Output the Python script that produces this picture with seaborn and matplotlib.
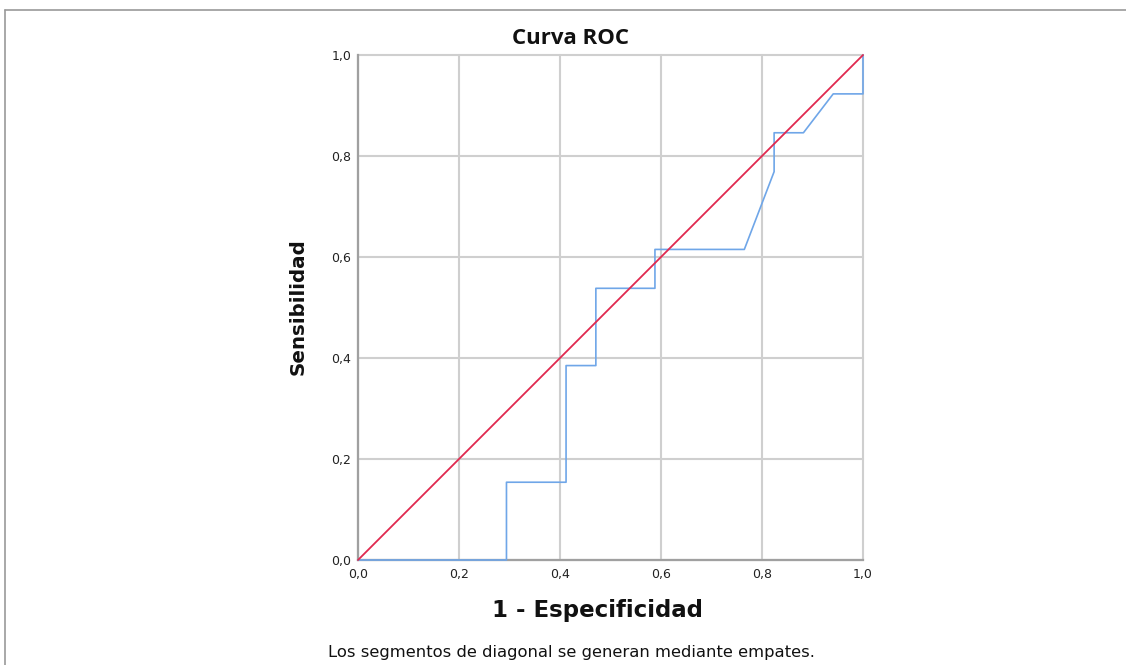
import matplotlib
matplotlib.use("Agg")
import matplotlib.pyplot as plt
import seaborn as sns
import pandas as pd
from matplotlib.lines import Line2D
from matplotlib.ticker import FuncFormatter

# ROC curve points (1 - specificity, sensitivity)
fpr = [0.0, 0.294, 0.294, 0.412, 0.412, 0.471, 0.471, 0.588, 0.588, 0.765,
       0.824, 0.824, 0.882, 0.941, 1.0, 1.0]
tpr = [0.0, 0.0, 0.154, 0.154, 0.385, 0.385, 0.538, 0.538, 0.615, 0.615,
       0.769, 0.846, 0.846, 0.923, 0.923, 1.0]
ref_x = [0.0, 1.0]
ref_y = [0.0, 1.0]
ticks = [0.0, 0.2, 0.4, 0.6, 0.8, 1.0]

title = "Curva ROC"
xlabel = "1 - Especificidad"
ylabel = "Sensibilidad"
note = "Los segmentos de diagonal se generan mediante empates."

sns.set_theme(style="white")
plt.rcParams['font.family'] = ['DejaVu Sans']

W, H = 1126, 665
fig = plt.figure(figsize=(W / 100, H / 100), dpi=100)
fig.patch.set_facecolor("white")
ax = fig.add_axes([358 / W, 1 - 560 / H, 505 / W, 505 / H])

roc = pd.DataFrame({"x": fpr, "y": tpr})
diag = pd.DataFrame({"x": ref_x, "y": ref_y})
sns.lineplot(data=roc, x="x", y="y", sort=False, estimator=None, ax=ax,
             color="#6fa6e8", linewidth=1.2, zorder=5)
sns.lineplot(data=diag, x="x", y="y", sort=False, estimator=None, ax=ax,
             color="#e0294f", linewidth=1.3, zorder=6)
for ln in ax.lines:
    ln.set_clip_on(False)

ax.set_xlim(0, 1)
ax.set_ylim(0, 1)
ax.set_xticks(ticks)
ax.set_yticks(ticks)
fmt = FuncFormatter(lambda v, p: f"{v:.1f}".replace(".", ","))
ax.xaxis.set_major_formatter(fmt)
ax.yaxis.set_major_formatter(fmt)
ax.tick_params(axis="both", length=0, labelsize=9, colors="#222222")
ax.tick_params(axis="x", pad=6)
ax.tick_params(axis="y", pad=5)
ax.grid(True, color="#cfcfcf", linewidth=1.5)
for g in ax.get_xgridlines() + ax.get_ygridlines():
    g.set_clip_on(False)
ax.set_axisbelow(True)
for s in ["top", "right"]:
    ax.spines[s].set_visible(False)
for s in ["left", "bottom"]:
    ax.spines[s].set_color("#a0a0a0")
    ax.spines[s].set_linewidth(1.6)
    ax.spines[s].set_zorder(2)
ax.set_xlabel("")
ax.set_ylabel("")

fig.text(571 / W, 1 - 39 / H, title, ha="center", va="center",
         fontsize=16, fontweight="bold", color="#111111",
         family=["Open Sans", "DejaVu Sans"])
fig.text(597 / W, 1 - 611 / H, xlabel, ha="center", va="center",
         fontsize=16.5, fontweight="bold", color="#111111")
fig.text(298 / W, 1 - 307 / H, ylabel, ha="center", va="center",
         rotation=90, fontsize=14.3, fontweight="bold", color="#111111")
fig.text(328 / W, 1 - 652 / H, note, ha="left", va="center",
         fontsize=11.75, color="#111111")

# outer frame lines (top and left)
fig.add_artist(Line2D([5 / W, 1], [1 - 10 / H, 1 - 10 / H],
                      transform=fig.transFigure, color="#9a9a9a", linewidth=1.2))
fig.add_artist(Line2D([5 / W, 5 / W], [0, 1 - 10 / H],
                      transform=fig.transFigure, color="#9a9a9a", linewidth=1.2))

fig.savefig("out.png", dpi=100, facecolor="white")
